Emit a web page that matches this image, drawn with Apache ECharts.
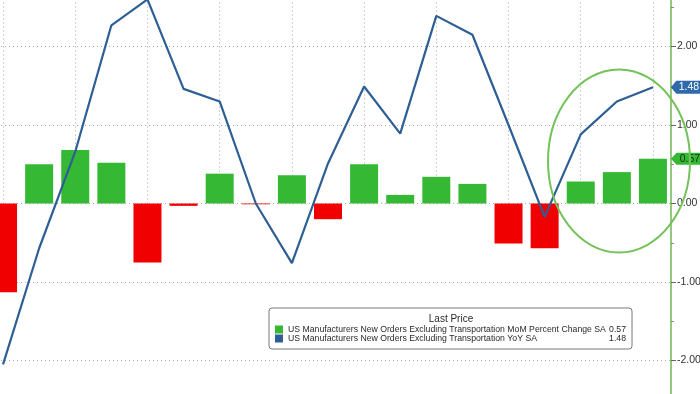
<!DOCTYPE html>
<html><head><meta charset="utf-8">
<script src="https://cdn.jsdelivr.net/npm/echarts@6/dist/echarts.min.js"></script>
<style>html,body{margin:0;padding:0;background:#fff}#c{width:700px;height:394px}</style>
</head><body><div id="c"></div>
<script>
const categories = ['Jul 22','Aug 22','Sep 22','Oct 22','Nov 22','Dec 22','Jan 23','Feb 23','Mar 23','Apr 23','May 23','Jun 23','Jul 23','Aug 23','Sep 23','Oct 23','Nov 23','Dec 23','Jan 24'];
const momValues = [-1.13, 0.50, 0.68, 0.52, -0.75, -0.03, 0.38, -0.01, 0.36, -0.20, 0.50, 0.11, 0.34, 0.25, -0.51, -0.57, 0.28, 0.40, 0.57];
const yoyValues = [-2.05, -0.57, 0.66, 2.27, 2.60, 1.46, 1.30, 0.00, -0.76, 0.51, 1.49, 0.89, 2.39, 2.15, 1.00, -0.17, 0.88, 1.30, 1.48];
const momName = 'US Manufacturers New Orders Excluding Transportation MoM Percent Change SA';
const yoyName = 'US Manufacturers New Orders Excluding Transportation YoY SA';
const lastMom = momValues[momValues.length - 1];
const lastYoy = yoyValues[yoyValues.length - 1];

const GREEN = '#35b935', RED = '#f00000', BLUE = '#2d5f94';
const FONT = "'Liberation Sans',Arial,sans-serif";
const dotted = {color: '#a8a8a8', width: 1, type: [1, 3]};

const chart = echarts.init(document.getElementById('c'), null, {renderer: 'canvas'});
const tag = 'path://M0,6 L5,0 L30,0 L30,12 L5,12 Z';
chart.setOption({
  animation: false,
  backgroundColor: '#fff',
  textStyle: {fontFamily: FONT},
  grid: {left: -15, right: 29, top: -32, bottom: -45, containLabel: false, outerBoundsMode: 'none'},
  title: {text: 'Last Price', left: 451, top: 314, textAlign: 'center', z: 10, padding: 0,
    textStyle: {fontSize: 10, fontWeight: 'normal', color: '#2a2a2a', fontFamily: FONT, lineHeight: 11}},
  legend: {
    orient: 'vertical', left: 269, top: 308, padding: [17, 6, 6, 6], itemGap: 0,
    itemWidth: 8, itemHeight: 8, icon: 'rect',
    backgroundColor: '#fff', borderColor: '#7a7a7a', borderWidth: 1, borderRadius: 3,
    data: [momName, yoyName],
    formatter: function (n) {
      const v = n === momName ? lastMom : lastYoy;
      return '{n|' + n + '}{v|' + v.toFixed(2) + '}';
    },
    textStyle: {fontSize: 8.7, color: '#2a2a2a', fontFamily: FONT,
      rich: {n: {width: 318, fontSize: 8.7, lineHeight: 11.5, color: '#2a2a2a', fontFamily: FONT},
             v: {width: 20, align: 'right', fontSize: 8.7, lineHeight: 11.5, color: '#2a2a2a', fontFamily: FONT}}}
  },
  xAxis: {
    type: 'category', data: categories, boundaryGap: true,
    axisLine: {show: false}, axisLabel: {show: false},
    axisTick: {show: true, alignWithLabel: true, inside: true, length: 480, lineStyle: dotted},
    splitLine: {show: false}
  },
  yAxis: {
    type: 'value', position: 'right', min: -3, max: 3, interval: 1,
    axisLine: {show: true, lineStyle: {color: '#93c97c', width: 2}},
    axisTick: {show: true, length: 5, lineStyle: {color: '#666'}},
    minorTick: {show: true, splitNumber: 2, length: 3, lineStyle: {color: '#888'}},
    axisLabel: {show: true, margin: 6, fontSize: 10.5, color: '#333', fontFamily: FONT,
      formatter: v => v.toFixed(2)},
    splitLine: {show: true, lineStyle: dotted}
  },
  series: [
    {
      name: momName, type: 'bar', barWidth: 28,
      itemStyle: {color: GREEN},
      data: momValues.map(v => ({value: v, itemStyle: {color: v >= 0 ? GREEN : RED}})),
      markPoint: {
        symbol: tag, symbolSize: [34, 12], symbolOffset: [35, 0], silent: true,
        itemStyle: {color: GREEN},
        label: {show: true, color: '#103010', fontSize: 10.5, offset: [2, 0], fontFamily: FONT,
          formatter: () => lastMom.toFixed(2)},
        data: [{coord: [categories.length - 1, lastMom]}]
      }
    },
    {
      name: yoyName, type: 'line', data: yoyValues, symbol: 'none',
      lineStyle: {color: BLUE, width: 2.2}, itemStyle: {color: BLUE}, z: 5,
      markPoint: {
        symbol: tag, symbolSize: [32, 13], symbolOffset: [34, 0], silent: true,
        itemStyle: {color: '#2f6aaa'},
        label: {show: true, color: '#fff', fontSize: 10.5, offset: [2, 0], fontFamily: FONT,
          formatter: () => lastYoy.toFixed(2)},
        data: [{coord: [categories.length - 1, lastYoy]}]
      }
    }
  ],
  graphic: [{
    type: 'ellipse', z: 20, silent: true,
    shape: {cx: 619, cy: 161, rx: 71, ry: 91.5},
    style: {fill: 'none', stroke: '#74c25a', lineWidth: 2}
  }]
});
</script></body></html>
